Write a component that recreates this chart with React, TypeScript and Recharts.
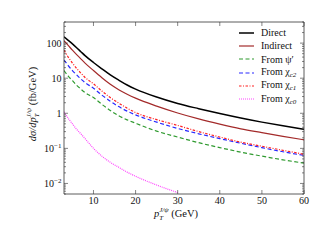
import React from 'react';
import { LineChart, Line, XAxis, YAxis } from 'recharts';

const pt = [3, 4, 5, 6, 7, 8, 10, 12, 14, 16, 18, 20, 25, 30, 35, 40, 45, 50, 55, 60];
const direct = [152, 120, 95, 74, 57, 44, 28, 18.5, 12.4, 8.8, 6.4, 4.9, 2.9, 1.9, 1.35, 0.98, 0.73, 0.56, 0.44, 0.35];
const indirect = [117, 86, 63, 47, 35.5, 27, 16.5, 10.3, 6.7, 4.7, 3.5, 2.7, 1.6, 1.02, 0.69, 0.49, 0.36, 0.28, 0.22, 0.175];
const fromPsi2S = [16.5, 11.5, 8.5, 6.3, 4.9, 3.9, 2.8, 1.8, 1.2, 0.85, 0.65, 0.52, 0.31, 0.21, 0.145, 0.105, 0.078, 0.06, 0.047, 0.038];
const fromChic2 = [33, 23, 16.5, 12.5, 9.5, 7.5, 5.2, 3.3, 2.2, 1.55, 1.15, 0.9, 0.56, 0.37, 0.26, 0.19, 0.14, 0.105, 0.08, 0.063];
const fromChic1 = [63, 40, 27, 19, 14, 10.5, 6.9, 4.3, 2.8, 1.95, 1.4, 1.05, 0.66, 0.45, 0.3, 0.21, 0.15, 0.115, 0.088, 0.068];
const fromChic0 = [1.1, 0.72, 0.5, 0.35, 0.26, 0.19, 0.1, 0.06, 0.04, 0.029, 0.021, 0.016, 0.009, 0.0055, null, null, null, null, null, null];

const xTicks = [10, 20, 30, 40, 50, 60];
const yMajorTicks = [0.01, 0.1, 1, 10, 100];
const yMajorLabels: [string, string][] = [['10', '−2'], ['10', '−1'], ['1', ''], ['10', ''], ['100', '']];
const yMinorTicks: number[] = [];
for (let k = -3; k <= 2; k++) {
  for (let m = 2; m <= 9; m++) {
    const v = +(m * Math.pow(10, k)).toPrecision(6);
    if (v >= 0.005 && v <= 400) yMinorTicks.push(v);
  }
}
const yTicks = [...yMajorTicks, ...yMinorTicks].sort((a, b) => a - b);

const data = pt.map((p, i) => ({
  pt: p,
  direct: direct[i],
  indirect: indirect[i],
  psi2s: fromPsi2S[i],
  chic2: fromChic2[i],
  chic1: fromChic1[i],
  chic0: fromChic0[i],
}));

const FONT = '"Liberation Serif", "DejaVu Serif", serif';
const AX = '#333';

const majorIndex = (v: number) => yMajorTicks.findIndex((t) => Math.abs(t - v) / t < 1e-6);

const LeftTick = (props: any) => {
  const { x, y, payload } = props;
  const idx = majorIndex(payload.value);
  const major = idx >= 0;
  return (
    <g>
      <line x1={x} x2={x + (major ? 4 : 2)} y1={y} y2={y} stroke={AX} strokeWidth={0.6} />
      {major && (
        <text x={x - 2.5} y={y} dy="0.35em" textAnchor="end" fontSize={10} fontFamily={FONT} fill="#111">
          {yMajorLabels[idx][0]}
          {yMajorLabels[idx][1] && (
            <tspan fontSize={7} dy={-4}>{yMajorLabels[idx][1]}</tspan>
          )}
        </text>
      )}
    </g>
  );
};

const RightTick = (props: any) => {
  const { x, y, payload } = props;
  const major = majorIndex(payload.value) >= 0;
  return <line x1={x} x2={x - (major ? 4 : 2)} y1={y} y2={y} stroke={AX} strokeWidth={0.6} />;
};

const BottomTick = (props: any) => {
  const { x, y, payload } = props;
  return (
    <g>
      <line x1={x} x2={x} y1={y} y2={y - 4} stroke={AX} strokeWidth={0.6} />
      <text x={x} y={y + 10} textAnchor="middle" fontSize={10} fontFamily={FONT} fill="#111">
        {payload.value}
      </text>
    </g>
  );
};

const TopTick = (props: any) => {
  const { x, y } = props;
  return <line x1={x} x2={x} y1={y} y2={y + 4} stroke={AX} strokeWidth={0.6} />;
};

const series = [
  { key: 'direct', name: 'Direct', color: '#000000', width: 1.5, dash: undefined as string | undefined, sub: '' },
  { key: 'indirect', name: 'Indirect', color: '#a32a2a', width: 1.2, dash: undefined, sub: '' },
  { key: 'psi2s', name: 'From ', color: '#2f9a2f', width: 1.2, dash: '4 2.5', sub: 'psi' },
  { key: 'chic2', name: 'From ', color: '#2828ff', width: 1.2, dash: '4 2.5', sub: 'c2' },
  { key: 'chic1', name: 'From ', color: '#ff2222', width: 1.2, dash: '2.5 1.5 1 1.5', sub: 'c1' },
  { key: 'chic0', name: 'From ', color: '#ff44ff', width: 1.2, dash: '1 1', sub: 'c0' },
];

const LegendBox = () => (
  <div style={{ position: 'absolute', left: 238, top: 26, fontFamily: FONT, fontSize: 10, color: '#111' }}>
    {series.map((s) => (
      <div key={s.key} style={{ display: 'flex', alignItems: 'center', height: 13.3, whiteSpace: 'nowrap' }}>
        <svg width={20} height={8} style={{ marginRight: 3 }}>
          <line x1={1} x2={16} y1={4} y2={4} stroke={s.color} strokeWidth={s.width} strokeDasharray={s.dash} />
        </svg>
        <span>
          {s.name}
          {s.sub === 'psi' && <span>ψ′</span>}
          {s.sub && s.sub !== 'psi' && (
            <span>
              χ<span style={{ fontSize: 7, verticalAlign: -2, fontStyle: 'italic' }}>{s.sub}</span>
            </span>
          )}
        </span>
      </div>
    ))}
  </div>
);

const axisCommon = {
  tickSize: 0,
  tickMargin: 0,
  tickLine: false,
  interval: 0 as const,
  allowDataOverflow: true,
  axisLine: { stroke: AX, strokeWidth: 0.8 },
};

export default function App() {
  return (
    <div style={{ position: 'absolute', left: 0, top: 0, width: 320, height: 240, background: '#fff' }}>
      <LineChart width={320} height={240} data={data} margin={{ top: 21, right: 15, bottom: 45, left: 63 }}>
        <XAxis
          {...axisCommon}
          dataKey="pt"
          type="number"
          domain={[3, 60]}
          ticks={xTicks}
          height={1}
          tick={<BottomTick />}
        />
        <XAxis
          {...axisCommon}
          xAxisId="top"
          orientation="top"
          dataKey="pt"
          type="number"
          domain={[3, 60]}
          ticks={xTicks}
          height={1}
          tick={<TopTick />}
        />
        <YAxis
          {...axisCommon}
          type="number"
          scale="log"
          domain={[0.005, 400]}
          ticks={yTicks}
          width={1}
          tick={<LeftTick />}
        />
        <YAxis
          {...axisCommon}
          yAxisId="right"
          orientation="right"
          type="number"
          scale="log"
          domain={[0.005, 400]}
          ticks={yTicks}
          width={1}
          tick={<RightTick />}
        />
        {series.map((s) => (
          <Line
            key={s.key}
            dataKey={s.key}
            type="monotone"
            stroke={s.color}
            strokeWidth={s.width}
            strokeDasharray={s.dash}
            dot={false}
            activeDot={false}
            connectNulls={false}
            isAnimationActive={false}
          />
        ))}
        <text x={154} y={217} fontSize={10.5} fontFamily={FONT} fill="#111">
          <tspan fontStyle="italic">p</tspan>
          <tspan fontSize={7} fontStyle="italic" dy={2.5}>T</tspan>
          <tspan fontSize={7} fontStyle="italic" dx={-4} dy={-8}>J/ψ</tspan>
          <tspan dy={5.5}>{'  (GeV)'}</tspan>
        </text>
        <text
          x={0}
          y={0}
          transform="translate(36, 104) rotate(-90)"
          textAnchor="middle"
          fontSize={10.5}
          fontFamily={FONT}
          fill="#111"
        >
          <tspan fontStyle="italic">dσ/dp</tspan>
          <tspan fontSize={7} fontStyle="italic" dy={2.5}>T</tspan>
          <tspan fontSize={7} fontStyle="italic" dx={-4} dy={-8}>J/ψ</tspan>
          <tspan dy={5.5}>{'  (fb/GeV)'}</tspan>
        </text>
      </LineChart>
      <LegendBox />
    </div>
  );
}
